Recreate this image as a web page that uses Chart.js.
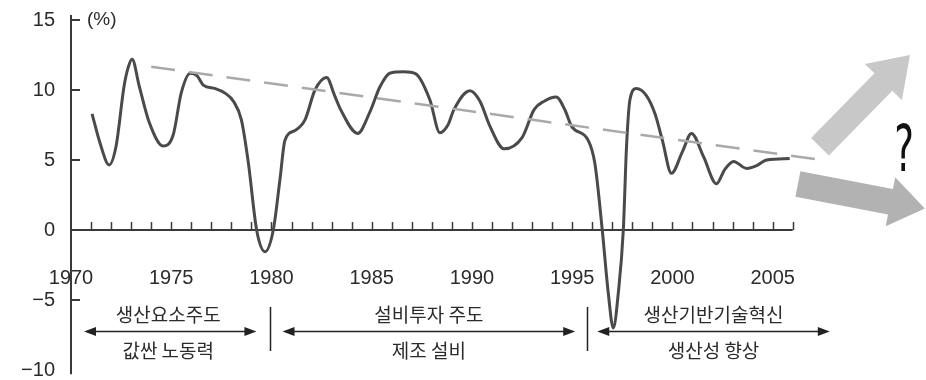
<!DOCTYPE html>
<html>
<head>
<meta charset="utf-8">
<script src="https://cdn.jsdelivr.net/npm/chart.js@4.4.1/dist/chart.umd.min.js"></script>
<style>
html,body{margin:0;padding:0;background:#fff;}
#wrap{width:926px;height:380px;position:relative;}
</style>
</head>
<body>
<div id="wrap"><canvas id="c" width="926" height="380"></canvas></div>
<script>
// ---- data ----
const years = [1971.05,1971.45,1971.9,1972.25,1972.65,1972.85,1973.05,1973.4,1973.9,1974.6,
  1975.1,1975.5,1975.95,1976.3,1976.6,1977.2,1977.7,1978.1,1978.5,1978.85,
  1979.26,1979.68,1980.09,1980.42,1980.67,1981.17,1981.67,1982.17,1982.75,1983.15,
  1983.45,1984.3,1984.9,1985.4,1985.9,1986.6,1987.2,1987.9,1988.4,1988.8,
  1989.1,1989.9,1990.4,1990.9,1991.6,1992.5,1993.1,1993.6,1994.2,1994.64,
  1994.97,1995.8,1996.13,1996.5,1996.8,1997.05,1997.3,1997.55,1997.71,1997.88,
  1998.2,1998.7,1999.13,1999.5,1999.95,2000.5,2000.95,2001.55,2002.2,2002.6,
  2003.05,2003.7,2004.2,2004.7,2005.85];
const growth = [8.3,6.2,4.65,6.0,10.3,11.6,12.2,10.3,7.7,6.0,
  6.8,9.8,11.2,11.0,10.35,10.1,9.76,9.2,7.86,4.76,
  0,-1.55,0,3.57,6.4,7.1,7.86,10.0,10.9,9.6,
  8.6,6.9,8.4,10.2,11.2,11.3,11.15,9.3,6.95,7.5,
  8.6,9.95,9.2,7.4,5.8,6.6,8.6,9.2,9.5,8.57,
  7.4,6.4,4.76,0,-4.5,-7.0,-4.5,0,5.95,9.3,
  10.1,9.6,8.3,6.4,4.05,5.6,6.9,5.25,3.3,4.3,
  4.9,4.4,4.6,5.0,5.1];
const trendYears = [1974.0, 2007.45];
const trendValues = [11.66, 5.0];
const xTickLabels = [1970,1975,1980,1985,1990,1995,2000,2005];
const yTickValues = [15,10,5,0,-5,-10];
const minorTickFirst = 1971, minorTickLast = 2006;
const unitLabel = '(%)';
const eraTop = ['생산요소주도','설비투자 주도','생산기반기술혁신'];
const eraBottom = ['값싼 노동력','제조 설비','생산성 향상'];
const eraCenters = [1974.85, 1987.85, 2002.05];
const eraSpans = [[1970.65,1979.25],[1980.55,1995.15],[1996.25,2007.85]];
const eraDividers = [1979.95, 1995.75];
// outlook arrows (year, value) tail -> tip
const upArrow = [[2007.36,5.95],[2011.85,12.5]];
const downArrow = [[2006.26,3.29],[2012.59,1.54]];
const questionPos = [2011.55, -0.4];

const NUM_FONT = "'Liberation Sans', Arial, sans-serif";
const KR_FONT = "'Noto Sans CJK KR', 'Noto Sans', sans-serif";
const INK = '#2b2b2b';

function blockArrow(ctx, x0, y0, x1, y1, shaftW, headW, headL, color) {
  const dx = x1 - x0, dy = y1 - y0, L = Math.hypot(dx, dy);
  const ux = dx / L, uy = dy / L, px = -uy, py = ux;
  const bx = x1 - ux * headL, by = y1 - uy * headL;
  ctx.beginPath();
  ctx.moveTo(x0 + px * shaftW / 2, y0 + py * shaftW / 2);
  ctx.lineTo(bx + px * shaftW / 2, by + py * shaftW / 2);
  ctx.lineTo(bx + px * headW / 2, by + py * headW / 2);
  ctx.lineTo(x1, y1);
  ctx.lineTo(bx - px * headW / 2, by - py * headW / 2);
  ctx.lineTo(bx - px * shaftW / 2, by - py * shaftW / 2);
  ctx.lineTo(x0 - px * shaftW / 2, y0 - py * shaftW / 2);
  ctx.closePath();
  ctx.fillStyle = color;
  ctx.fill();
}

function smallHead(ctx, x, y, dir) {
  ctx.beginPath();
  ctx.moveTo(x, y);
  ctx.lineTo(x - dir * 12, y - 4.5);
  ctx.lineTo(x - dir * 12, y + 4.5);
  ctx.closePath();
  ctx.fill();
}

const decor = {
  id: 'decor',
  beforeDatasetsDraw(chart) {
    const ctx = chart.ctx, xs = chart.scales.x, ys = chart.scales.y;
    const x0 = xs.getPixelForValue(1970);
    const y0 = ys.getPixelForValue(0);
    ctx.save();
    ctx.strokeStyle = '#3a3a3a';
    ctx.lineWidth = 2;
    // y axis line
    ctx.beginPath();
    ctx.moveTo(x0, ys.getPixelForValue(15.35));
    ctx.lineTo(x0, ys.getPixelForValue(-10.3));
    ctx.stroke();
    // y ticks (inside)
    yTickValues.forEach(v => {
      if (v === 0 || v === -10) return;
      const py = ys.getPixelForValue(v);
      ctx.beginPath();
      ctx.moveTo(x0, py);
      ctx.lineTo(x0 + 9, py);
      ctx.stroke();
    });
    // zero line
    ctx.beginPath();
    ctx.moveTo(x0, y0);
    ctx.lineTo(xs.getPixelForValue(minorTickLast), y0);
    ctx.stroke();
    // yearly ticks upward
    ctx.lineWidth = 1.5;
    for (let yr = minorTickFirst; yr <= minorTickLast; yr++) {
      const px = Math.round(xs.getPixelForValue(yr)) + 0.5;
      ctx.beginPath();
      ctx.moveTo(px, y0);
      ctx.lineTo(px, y0 - 8);
      ctx.stroke();
    }
    // unit label
    ctx.fillStyle = INK;
    ctx.font = '19px ' + NUM_FONT;
    ctx.textAlign = 'left';
    ctx.textBaseline = 'middle';
    ctx.fillText(unitLabel, x0 + 16, ys.getPixelForValue(15));
    ctx.restore();
  },
  afterDraw(chart) {
    const ctx = chart.ctx, xs = chart.scales.x, ys = chart.scales.y;
    const P = (p) => [xs.getPixelForValue(p[0]), ys.getPixelForValue(p[1])];
    ctx.save();
    // outlook arrows
    const [ua0, ua1] = [P(upArrow[0]), P(upArrow[1])];
    blockArrow(ctx, ua0[0], ua0[1], ua1[0], ua1[1], 25, 52, 38, '#c8c8c8');
    const [da0, da1] = [P(downArrow[0]), P(downArrow[1])];
    blockArrow(ctx, da0[0], da0[1], da1[0], da1[1], 26, 50, 35, '#b2b2b2');
    // question mark
    const q = P(questionPos);
    ctx.save();
    ctx.translate(q[0], q[1] - 65);
    ctx.scale(0.58, 1);
    ctx.fillStyle = '#111';
    ctx.font = '64px ' + "'DejaVu Sans', sans-serif";
    ctx.textAlign = 'center';
    ctx.textBaseline = 'alphabetic';
    ctx.fillText('?', 0, 0);
    ctx.restore();

    // era annotations
    const rowTop = 315, rowMid = 331.5, rowBot = 351;
    ctx.strokeStyle = '#222';
    ctx.fillStyle = '#222';
    ctx.lineWidth = 1.5;
    eraDividers.forEach(yr => {
      const px = Math.round(xs.getPixelForValue(yr)) + 0.5;
      ctx.beginPath();
      ctx.moveTo(px, 307);
      ctx.lineTo(px, 351);
      ctx.stroke();
    });
    eraSpans.forEach(([a, b]) => {
      const pa = xs.getPixelForValue(a), pb = xs.getPixelForValue(b);
      ctx.beginPath();
      ctx.moveTo(pa + 6, rowMid);
      ctx.lineTo(pb - 6, rowMid);
      ctx.stroke();
      smallHead(ctx, pa, rowMid, -1);
      smallHead(ctx, pb, rowMid, 1);
    });
    ctx.fillStyle = INK;
    ctx.font = '19px ' + KR_FONT;
    ctx.textAlign = 'center';
    ctx.textBaseline = 'middle';
    eraCenters.forEach((c, i) => {
      const px = xs.getPixelForValue(c);
      ctx.fillText(eraTop[i], px, rowTop);
      ctx.fillText(eraBottom[i], px, rowBot);
    });
    ctx.restore();
  }
};

const chart = new Chart(document.getElementById('c'), {
  type: 'line',
  data: {
    datasets: [
      {
        label: 'trend',
        data: trendYears.map((x, i) => ({ x, y: trendValues[i] })),
        borderColor: '#a9a9a9',
        borderWidth: 2.5,
        borderDash: [24, 14],
        pointRadius: 0,
        fill: false,
        order: 0
      },
      {
        label: 'growth',
        data: years.map((x, i) => ({ x, y: growth[i] })),
        borderColor: '#4a4a4a',
        borderWidth: 3,
        pointRadius: 0,
        fill: false,
        cubicInterpolationMode: 'monotone',
        tension: 0.4,
        order: 1
      }
    ]
  },
  options: {
    responsive: false,
    animation: false,
    clip: false,
    layout: { padding: { left: 0, right: 13, top: 20, bottom: 10 } },
    plugins: { legend: { display: false }, tooltip: { enabled: false }, title: { display: false } },
    scales: {
      x: {
        type: 'linear',
        min: 1970,
        max: 2012,
        position: { y: 0 },
        afterBuildTicks: s => { s.ticks = xTickLabels.map(v => ({ value: v })); },
        afterFit: s => { s.height = 0; s.paddingLeft = 0; s.paddingRight = 0; },
        grid: { display: false, drawTicks: false },
        border: { display: false },
        ticks: {
          autoSkip: false, maxRotation: 0, minRotation: 0, padding: 36,
          color: INK, font: { family: NUM_FONT, size: 20 },
          callback: v => String(v)
        }
      },
      y: {
        type: 'linear',
        min: -10,
        max: 15,
        afterBuildTicks: s => { s.ticks = yTickValues.map(v => ({ value: v })); },
        afterFit: s => { s.width = 71; s.paddingTop = 0; s.paddingBottom = 0; },
        grid: { display: false, drawTicks: false },
        border: { display: false },
        ticks: {
          padding: 16, color: INK, font: { family: NUM_FONT, size: 20 },
          callback: v => (v < 0 ? '\u2212' + Math.abs(v) : String(v))
        }
      }
    }
  },
  plugins: [decor]
});
</script>
</body>
</html>
